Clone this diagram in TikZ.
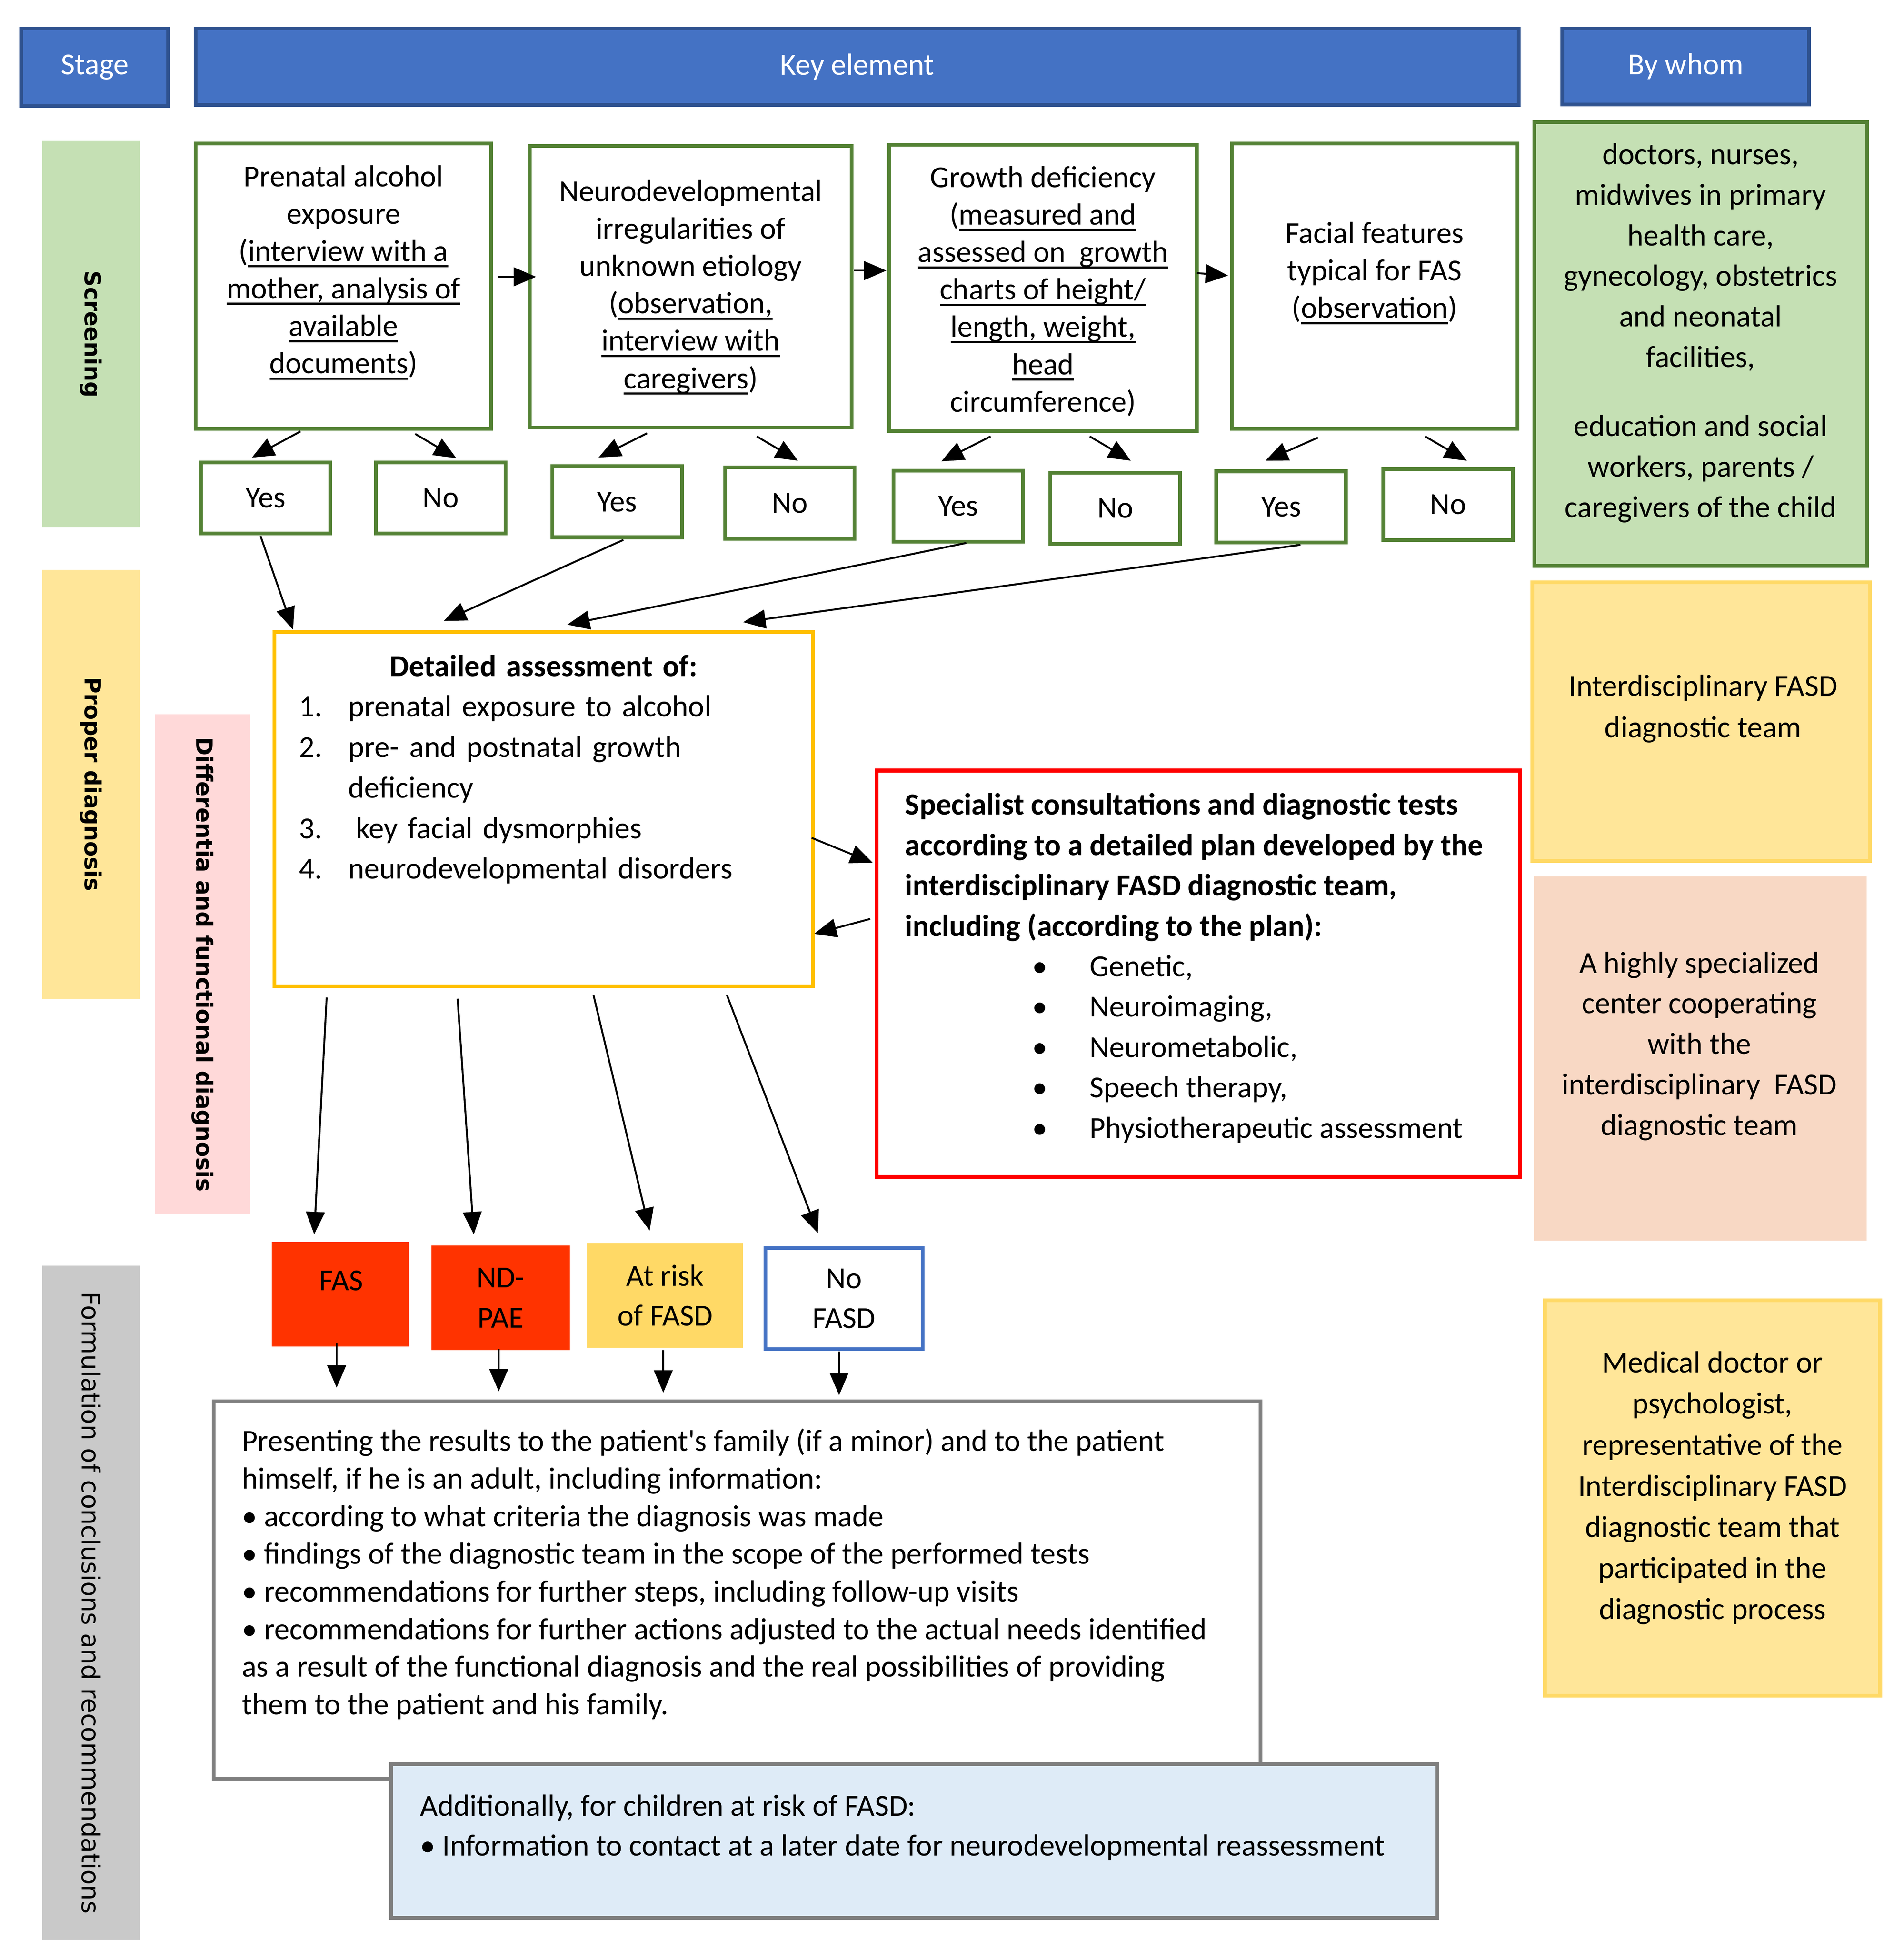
\documentclass[tikz,border=0pt]{standalone}
\usepackage{fontspec}
\setmainfont{Carlito}
\newfontfamily\vfont{DejaVu Sans}
\usetikzlibrary{arrows.meta,calc}
\definecolor{hdrfill}{HTML}{4472C4}
\definecolor{hdrline}{HTML}{2F528F}
\definecolor{grnline}{HTML}{548235}
\definecolor{grnfill}{HTML}{C5E0B4}
\definecolor{ylwfill}{HTML}{FFE699}
\definecolor{ylwline}{HTML}{FFD966}
\definecolor{goldline}{HTML}{FFC000}
\definecolor{pinkfill}{HTML}{FFD9D9}
\definecolor{grayfill}{HTML}{C9C9C9}
\definecolor{peachfill}{HTML}{F8D8C4}
\definecolor{fasred}{HTML}{FF3300}
\definecolor{grayline}{HTML}{7F7F7F}
\definecolor{bluefill}{HTML}{DEEBF7}
\definecolor{redline}{HTML}{FF0000}
\newcommand\myul[1]{\setbox0=\hbox{#1}\rlap{\rule[-5pt]{\wd0}{1.7pt}}\box0}
\begin{document}
\begin{tikzpicture}[x=1pt,y=-1pt,
  every node/.style={inner sep=0pt, outer sep=0pt, font=\fontsize{24.5}{30}\selectfont},
  hdr/.style={draw=hdrline, line width=3pt, fill=hdrfill, text=white},
  bar/.style={rotate=-90, font=\vfont\bfseries\fontsize{18}{22}\selectfont},
  gbox/.style={draw=grnline, line width=3pt, fill=white},
  yn/.style={draw=grnline, line width=3pt, fill=white, minimum width=104pt, minimum height=57pt},
  arr/.style={-{Triangle[length=18pt,width=15pt]}, line width=1.5pt},
  ctr/.style={align=center},
]
\fill[white] (0,0) rectangle (1527,1564);
\useasboundingbox (0,0) rectangle (1527,1564);

% headers
\node[hdr, minimum width=118pt, minimum height=62pt] (stage) at (76,54) {Stage};
\node[hdr, minimum width=1061pt, minimum height=61pt] (key) at (687.5,53.5) {Key element};
\node[hdr, minimum width=198pt, minimum height=61pt] (whom) at (1352,53.3) {By whom};

% stage bars
\node[bar, fill=grnfill, minimum width=310pt, minimum height=78pt] (scr) at (73,268) {Screening};
\node[bar, fill=ylwfill, minimum width=344pt, minimum height=78pt] (prop) at (73,629) {Proper diagnosis};
\node[bar, fill=pinkfill, minimum width=401pt, minimum height=77pt] (diff) at (162.5,773.5) {Differentia and functional diagnosis};
\node[bar, fill=grayfill, minimum width=541pt, minimum height=78pt, font=\vfont\fontsize{20}{24}\selectfont] (form) at (73,1285.5) {Formulation of conclusions and recommendations};

% screening boxes
\node[gbox, minimum width=237pt, minimum height=229pt] (b1) at (275.5,229.5) {};
\node[ctr] (b1t) at (275.5,218.5) {Prenatal alcohol\\exposure\\(\myul{interview with a}\\\myul{mother, analysis of}\\\myul{available}\\\myul{documents})};
\node[gbox, minimum width=258pt, minimum height=226pt] (b2) at (554,230) {};
\node[ctr] (b2t) at (554,230.5) {Neurodevelopmental\\irregularities of\\unknown etiology\\(\myul{observation,}\\\myul{interview with}\\\myul{caregivers})};
\node[gbox, minimum width=247pt, minimum height=230pt] (b3) at (836.5,231) {};
\node[ctr] (b3t) at (836.5,233.5) {Growth deficiency\\(\myul{measured and}\\\myul{assessed on\ \ growth}\\\myul{charts of height/}\\\myul{length, weight,}\\\myul{head}\\circumference)};
\node[gbox, minimum width=229pt, minimum height=229pt] (b4) at (1102.5,229.5) {};
\node[ctr] (b4t) at (1102.5,219) {Facial features\\typical for FAS\\(\myul{observation})};

\draw[arr] ([shift={(5,-7.5)}]b1.east) -- ([shift={(5,-8)}]b2.west);
\draw[arr] ([shift={(2,-13)}]b2.east) -- ([shift={(-2,-14)}]b3.west);
\draw[arr] ([shift={(0,-12)}]b3.east) -- ([shift={(-3,-8.5)}]b4.west);

% yes / no
\node[yn] (y1) at (213,399.5) {Yes};
\node[yn] (n1) at (353.5,399.5) {No};
\node[yn] (y2) at (495,402.5) {Yes};
\node[yn] (n2) at (633.5,403.5) {No};
\node[yn] (y3) at (768.5,406) {Yes};
\node[yn] (n3) at (894.5,407.5) {No};
\node[yn] (y4) at (1027.5,406.5) {Yes};
\node[yn] (n4) at (1161.5,404.5) {No};

\draw[arr] ([shift={(-34.5,2)}]b1.south) -- ([shift={(-11,-4)}]y1.north);
\draw[arr] ([shift={(57.5,4)}]b1.south) -- ([shift={(12.5,-3.5)}]n1.north);
\draw[arr] ([shift={(-35,4.5)}]b2.south) -- ([shift={(-15,-7)}]y2.north);
\draw[arr] ([shift={(53,7)}]b2.south) -- ([shift={(6.5,-5.5)}]n2.north);
\draw[arr] ([shift={(-42,4)}]b3.south) -- ([shift={(-13.5,-7.5)}]y3.north);
\draw[arr] ([shift={(37.5,4)}]b3.south) -- ([shift={(12.5,-9.5)}]n3.north);
\draw[arr] ([shift={(-45.5,7)}]b4.south) -- ([shift={(-12.5,-8.5)}]y4.north);
\draw[arr] ([shift={(40.5,6)}]b4.south) -- ([shift={(15,-6.5)}]n4.north);

% detailed assessment
\node[draw=goldline, line width=3pt, fill=white, minimum width=432pt, minimum height=284pt] (det) at (436,649) {};
\node[text width=392pt, font=\fontsize{24.5}{32.5}\selectfont] (dett) at (436,617) {%
\centering\textbf{Detailed assessment of:}\par\raggedright
\makebox[39.5pt][l]{1.}prenatal exposure to alcohol\par
\makebox[39.5pt][l]{2.}pre- and postnatal growth\par
\hspace*{39.5pt}deficiency\par
\makebox[39.5pt][l]{3.}\hspace*{6pt}key facial dysmorphies\par
\makebox[39.5pt][l]{4.}neurodevelopmental disorders\par};

\draw[arr] ([shift={(-4,2)}]y1.south) -- ([shift={(15,-2)}]det.north west);
\draw[arr] ([shift={(5,2)}]y2.south) -- ([shift={(136,-9)}]det.north west);
\draw[arr] ([shift={(6.5,1)}]y3.south) -- ([shift={(235,-6)}]det.north west);
\draw[arr] ([shift={(15.5,2)}]y4.south) -- ([shift={(376,-8)}]det.north west);

% specialist
\node[draw=redline, line width=3pt, fill=white, minimum width=516pt, minimum height=326pt] (spec) at (961,781) {};
\node[anchor=west, align=left, font=\fontsize{24.5}{32.4}\selectfont] (spect) at (726,776.5) {%
\textbf{Specialist consultations and diagnostic tests}\\
\textbf{according to a detailed plan developed by the}\\
\textbf{interdisciplinary FASD diagnostic team,}\\
\textbf{including (according to the plan):}\\
\hspace*{102pt}\makebox[46pt][l]{•}Genetic,\\
\hspace*{102pt}\makebox[46pt][l]{•}Neuroimaging,\\
\hspace*{102pt}\makebox[46pt][l]{•}Neurometabolic,\\
\hspace*{102pt}\makebox[46pt][l]{•}Speech therapy,\\
\hspace*{102pt}\makebox[46pt][l]{•}Physiotherapeutic assessment};

\draw[arr] ([shift={(-1,23)}]det.east) -- ([shift={(-3,-89)}]spec.west);
\draw[arr] ([shift={(-5,-44)}]spec.west) -- ([shift={(1,100)}]det.east);

% outcomes
\node[fill=fasred, minimum width=110pt, minimum height=84pt] (fas) at (273,1038) {};
\node (fast) at (273.5,1027) {FAS};
\node[fill=fasred, minimum width=111pt, minimum height=84pt, ctr, font=\fontsize{24.5}{32}\selectfont] (ndpae) at (401.5,1041) {ND-\\PAE};
\node[fill=ylwline, minimum width=125pt, minimum height=84pt, ctr, font=\fontsize{24.5}{32}\selectfont] (risk) at (533.5,1039) {At risk\\of FASD};
\node[draw=hdrfill, line width=3pt, fill=white, minimum width=126pt, minimum height=81pt, ctr, font=\fontsize{24.5}{32}\selectfont] (nofasd) at (677,1041.5) {No\\FASD};

\draw[arr] ([shift={(-174,9)}]det.south) -- ([shift={(-21,-6)}]fas.north);
\draw[arr] ([shift={(-69,10)}]det.south) -- ([shift={(-21.5,-9)}]ndpae.north);
\draw[arr] ([shift={(40,7)}]det.south) -- ([shift={(-12.5,-10)}]risk.north);
\draw[arr] ([shift={(147,7)}]det.south) -- ([shift={(-21,-12)}]nofasd.north);

% presenting
\node[draw=grayline, line width=3pt, fill=white, minimum width=839.5pt, minimum height=303pt] (pres) at (591.25,1275.5) {};
\node[anchor=west, align=left, font=\fontsize{24.5}{30.2}\selectfont] (prest) at (194,1262.5) {%
Presenting the results to the patient\textquotesingle s family (if a minor) and to the patient\\
himself, if he is an adult, including information:\\
• according to what criteria the diagnosis was made\\
• findings of the diagnostic team in the scope of the performed tests\\
• recommendations for further steps, including follow-up visits\\
• recommendations for further actions adjusted to the actual needs identified\\
as a result of the functional diagnosis and the real possibilities of providing\\
them to the patient and his family.};

\draw[arr] ([shift={(-3,-3)}]fas.south) -- ([shift={(-321.25,-11)}]pres.north);
\draw[arr] ([shift={(-1.5,-1)}]ndpae.south) -- ([shift={(-191.25,-8)}]pres.north);
\draw[arr] ([shift={(-1.5,2)}]risk.south) -- ([shift={(-59.25,-7)}]pres.north);
\draw[arr] ([shift={(-4,2)}]nofasd.south) -- ([shift={(81.75,-5)}]pres.north);

% additionally
\node[draw=grayline, line width=3pt, fill=bluefill, minimum width=839.5pt, minimum height=123pt] (addl) at (733.25,1476.5) {};
\node[anchor=west, align=left, font=\fontsize{24.5}{32}\selectfont] (addlt) at (337,1466) {%
Additionally, for children at risk of FASD:\\
• Information to contact at a later date for neurodevelopmental reassessment};

% by whom column
\node[draw=grnline, line width=3pt, fill=grnfill, minimum width=267pt, minimum height=356pt] (w1) at (1364,276) {};
\node[ctr, font=\fontsize{24.5}{32.5}\selectfont] (w1t) at (1364,267) {doctors, nurses,\\midwives in primary\\health care,\\gynecology, obstetrics\\and neonatal\\facilities,\\[23pt]education and social\\workers, parents /\\caregivers of the child};
\node[draw=ylwline, line width=3pt, fill=ylwfill, minimum width=271pt, minimum height=223.5pt] (w2) at (1364.5,578.75) {};
\node[ctr, font=\fontsize{24.5}{33}\selectfont] (w2t) at (1366,568.5) {Interdisciplinary FASD\\diagnostic team};
\node[fill=peachfill, minimum width=267pt, minimum height=292pt] (w3) at (1363.5,849) {};
\node[ctr, font=\fontsize{24.5}{32.5}\selectfont] (w3t) at (1363,839) {A highly specialized\\center cooperating\\with the\\interdisciplinary\ \ FASD\\diagnostic team};
\node[draw=ylwline, line width=3pt, fill=ylwfill, minimum width=269pt, minimum height=317pt] (w4) at (1373.5,1201.5) {};
\node[ctr, font=\fontsize{24.5}{33}\selectfont] (w4t) at (1373.5,1193.5) {Medical doctor or\\psychologist,\\representative of the\\Interdisciplinary FASD\\diagnostic team that\\participated in the\\diagnostic process};
\end{tikzpicture}
\end{document}
